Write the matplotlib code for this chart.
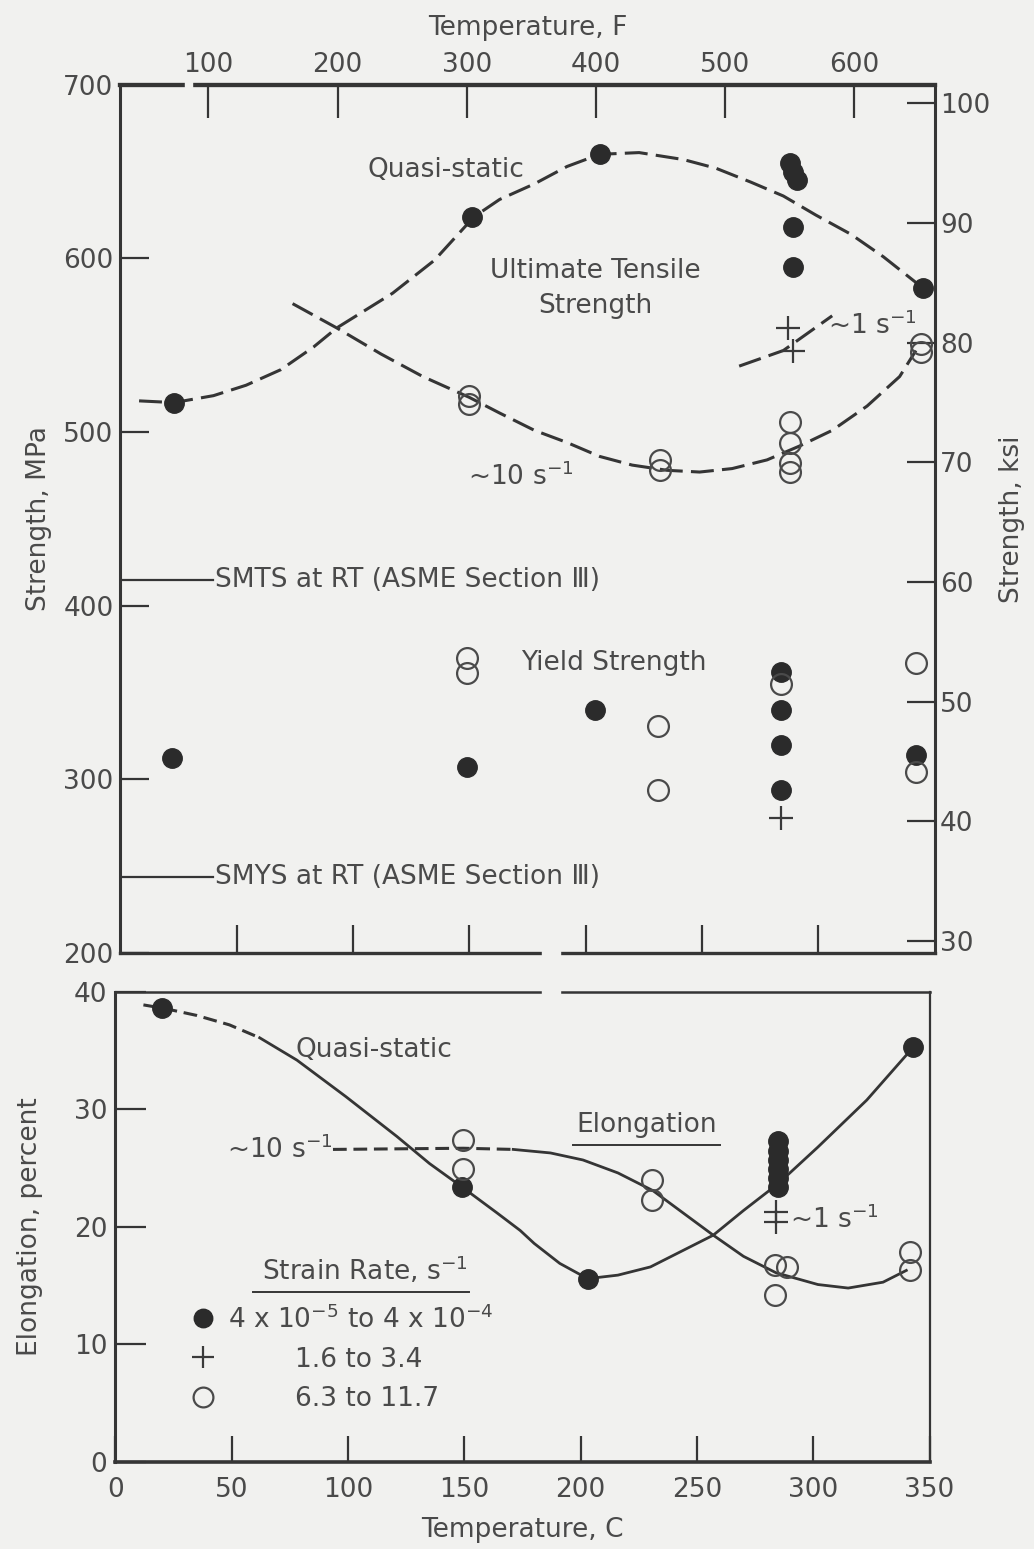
import numpy as np
import matplotlib
matplotlib.use('Agg')
import matplotlib.pyplot as plt
from matplotlib.patches import Rectangle

# ---- upper panel: strength, MPa vs temperature, C
uts_qs_t = [23, 151, 206, 288, 289, 291, 289, 289, 345]
uts_qs_s = [517, 624, 660, 655, 650, 645, 618, 595, 583]
uts_fast_t = [150, 150, 232, 232, 288, 288, 288, 288, 344, 344]
uts_fast_s = [521, 516, 484, 478, 506, 494, 482, 477, 551, 546]
uts_mid_t = [287, 289]
uts_mid_s = [560, 547]

ys_qs_t = [22, 149, 204, 284, 284, 284, 284, 342]
ys_qs_s = [312, 307, 340, 362, 340, 320, 294, 314]
ys_fast_t = [149, 149, 231, 231, 284, 342, 342]
ys_fast_s = [370, 361, 331, 294, 355, 367, 304]
ys_mid_t = [284]
ys_mid_s = [278]

# hand drawn fit curves
uts_qs_curve_t = [8, 23, 40, 54, 69, 83, 93, 117, 135, 152, 163, 178, 192, 206, 223,
                  242, 256, 271, 285, 299, 314, 328, 345]
uts_qs_curve_s = [518, 517, 521, 527, 536, 549, 560, 580, 599, 624, 634, 643, 653, 660, 661,
                  657, 652, 644, 636, 625, 614, 601, 583]
uts_fast_curve_t = [74, 93, 112, 130, 150, 163, 178, 192, 206, 220, 235, 249, 263, 278,
                    292, 306, 321, 335, 342]
uts_fast_curve_s = [574, 560, 545, 532, 520, 511, 501, 494, 486, 481, 478, 477, 479, 484,
                    492, 501, 515, 532, 547]
uts_mid_curve_t = [266, 285, 306]
uts_mid_curve_s = [538, 547, 567]

smts = 415
smys = 244

# ---- lower panel: elongation, percent
el_qs_t = [20, 149, 203, 285, 285, 285, 285, 285, 285, 343]
el_qs_e = [38.6, 23.4, 15.6, 27.3, 26.5, 25.7, 24.9, 24.2, 23.4, 35.3]
el_fast_t = [149.5, 149.5, 230.6, 230.6, 283.5, 288.5, 283.5, 341.5, 341.5]
el_fast_e = [27.4, 24.9, 24.0, 22.3, 16.8, 16.6, 14.2, 17.9, 16.3]
el_mid_t = [284, 284]
el_mid_e = [21.3, 20.4]

el_qs_dash_t = [12, 21, 35, 49, 62]
el_qs_dash_e = [38.9, 38.6, 38.0, 37.2, 36.1]
el_qs_line_t = [62, 78, 99, 121, 135, 149, 164, 174, 180, 191, 203, 216, 230, 244, 257,
                270, 285, 302, 323, 343]
el_qs_line_e = [36.1, 34.2, 31.1, 27.7, 25.4, 23.4, 21.2, 19.7, 18.6, 16.9, 15.6, 15.9, 16.6,
                18.0, 19.3, 21.4, 23.7, 26.8, 30.8, 35.3]
el_fast_dash_t = [93.5, 149.5, 171]
el_fast_dash_e = [26.6, 26.7, 26.6]
el_fast_line_t = [171, 187, 201, 216, 231, 244, 257, 270, 284, 302, 315, 330, 340]
el_fast_line_e = [26.6, 26.3, 25.7, 24.6, 23.1, 21.2, 19.3, 17.5, 16.1, 15.1, 14.8, 15.3, 16.3]

legend_labels = ['4 x 10$^{-5}$ to 4 x 10$^{-4}$', '        1.6 to 3.4', '        6.3 to 11.7']

bg = '#f1f1ef'
ink = '#353535'
txt = '#4a4a4a'
fs = 19

plt.rcParams['font.family'] = ['DejaVu Sans']
plt.rcParams['mathtext.fontset'] = 'dejavusans'

fig = plt.figure(figsize=(10.34, 15.49), dpi=100, facecolor=bg)
ax1 = fig.add_axes([0.1165, 0.3848, 0.7873, 0.5604], facecolor=bg)
ax2 = fig.add_axes([0.1117, 0.0562, 0.7873, 0.3034], facecolor=bg)

dash_long = dict(color=ink, lw=2.2, dashes=(7.5, 2.7))
dot_kw = dict(ls='none', marker='o', ms=14, mfc='#2b2b2b', mec='#2b2b2b', zorder=4)
open_kw = dict(ls='none', marker='o', ms=15, mfc='none', mec='#4a4a4a', mew=1.6, zorder=4)
plus_kw = dict(ls='none', marker='+', ms=17, mec='#3a3a3a', mew=1.6, zorder=4)

# ---------- upper panel
ax1.plot(uts_qs_curve_t, uts_qs_curve_s, **dash_long)
ax1.plot(uts_fast_curve_t, uts_fast_curve_s, **dash_long)
ax1.plot(uts_mid_curve_t, uts_mid_curve_s, **dash_long)
ax1.plot(uts_qs_t, uts_qs_s, **dot_kw)
ax1.plot(uts_fast_t, uts_fast_s, **open_kw)
ax1.plot(uts_mid_t, uts_mid_s, **plus_kw)
ax1.plot(ys_qs_t, ys_qs_s, **dot_kw)
ax1.plot(ys_fast_t, ys_fast_s, **open_kw)
ax1.plot(ys_mid_t, ys_mid_s, **plus_kw)

ax1.plot([0, 40], [smts, smts], color=ink, lw=1.6)
ax1.plot([0, 40], [smys, smys], color=ink, lw=1.6)
ax1.text(40.5, smts, 'SMTS at RT (ASME Section \u2162)', fontsize=fs, color=txt, va='center', ha='left')
ax1.text(40.5, smys, 'SMYS at RT (ASME Section \u2162)', fontsize=fs, color=txt, va='center', ha='left')

ax1.text(140, 651, 'Quasi-static', fontsize=fs, color=txt, ha='center', va='center')
ax1.text(204, 582.5, 'Ultimate Tensile\nStrength', fontsize=fs, color=txt, ha='center', va='center',
         linespacing=1.45)
ax1.text(172, 474, '~10 s$^{-1}$', fontsize=fs, color=txt, ha='center', va='center')
ax1.text(304, 561, '~1 s$^{-1}$', fontsize=fs, color=txt, ha='left', va='center')
ax1.text(212, 367, 'Yield Strength', fontsize=fs, color=txt, ha='center', va='center')

ax1.set_xlim(0, 350)
ax1.set_ylim(200, 700)
ax1.set_xticks([50, 100, 150, 200, 250, 300])
ax1.set_xticklabels([])
ax1.set_yticks([200, 300, 400, 500, 600, 700])
ax1.tick_params(axis='x', direction='in', length=20, width=1.6, color=ink)
ax1.tick_params(axis='y', direction='in', length=21, width=1.6, color=ink,
                labelsize=fs, labelcolor=txt, pad=5)
ax1.set_ylabel('Strength, MPa', fontsize=fs, color=txt, labelpad=8)

top = ax1.secondary_xaxis('top', functions=(lambda c: c * 9 / 5 + 32, lambda f: (f - 32) * 5 / 9))
top.set_xticks([100, 200, 300, 400, 500, 600])
top.tick_params(direction='in', length=24, width=1.6, color=ink, labelsize=fs, labelcolor=txt, pad=5)
top.set_xlabel('Temperature, F', fontsize=fs, color=txt, labelpad=12)

right = ax1.secondary_yaxis('right', functions=(lambda m: m / 6.895, lambda k: k * 6.895))
right.set_yticks([30, 40, 50, 60, 70, 80, 90, 100])
right.tick_params(direction='in', length=20, width=1.6, color=ink, labelsize=fs, labelcolor=txt, pad=4)
right.set_ylabel('Strength, ksi', fontsize=fs, color=txt, labelpad=6)

ax1.spines['right'].set_visible(False)
ax1.spines['top'].set_linewidth(3.0)
ax1.spines['left'].set_linewidth(2.2)
ax1.spines['bottom'].set_linewidth(2.4)
top.spines['top'].set_linewidth(3.0)
right.spines['right'].set_linewidth(2.2)
for sp in list(ax1.spines.values()) + list(top.spines.values()) + list(right.spines.values()):
    sp.set_color(ink)

# ---------- lower panel
ax2.plot(el_qs_dash_t, el_qs_dash_e, color=ink, lw=2.2, dashes=(4.5, 2.2))
ax2.plot(el_qs_line_t, el_qs_line_e, color=ink, lw=2.0)
ax2.plot(el_fast_dash_t, el_fast_dash_e, color=ink, lw=2.2, dashes=(4.5, 2.2))
ax2.plot(el_fast_line_t, el_fast_line_e, color=ink, lw=2.0)
h_qs, = ax2.plot(el_qs_t, el_qs_e, **dot_kw)
h_mid, = ax2.plot(el_mid_t, el_mid_e, **plus_kw)
h_fast, = ax2.plot(el_fast_t, el_fast_e, **open_kw)

ax2.text(111, 35.1, 'Quasi-static', fontsize=fs, color=txt, ha='center', va='center')
ax2.text(93.5, 26.6, '~10 s$^{-1}$', fontsize=fs, color=txt, ha='right', va='center')
ax2.text(228.5, 28.7, 'Elongation', fontsize=fs, color=txt, ha='center', va='center')
ax2.plot([196.7, 259.9], [27.0, 27.0], color=ink, lw=1.4)
ax2.text(290, 20.6, '~1 s$^{-1}$', fontsize=fs, color=txt, ha='left', va='center')

ax2.text(107.3, 16.3, 'Strain Rate, s$^{-1}$', fontsize=fs, color=txt, ha='center', va='center')
ax2.plot([59, 152], [14.5, 14.5], color=ink, lw=1.4)
leg = ax2.legend([h_qs, h_mid, h_fast], legend_labels,
                 loc='upper left', bbox_to_anchor=(191 / 1034, 1 - 1305 / 1549),
                 bbox_transform=fig.transFigure, frameon=False, fontsize=fs,
                 handlelength=0.9, handletextpad=0.5, labelspacing=0.5, borderpad=0,
                 borderaxespad=0, markerscale=0.95)
for t in leg.get_texts():
    t.set_color(txt)

ax2.set_xlim(0, 350)
ax2.set_ylim(0, 40)
ax2.set_xticks([0, 50, 100, 150, 200, 250, 300, 350])
ax2.set_yticks([0, 10, 20, 30, 40])
ax2.tick_params(axis='x', direction='in', length=19, width=1.6, color=ink,
                labelsize=fs, labelcolor=txt, pad=11)
ax2.tick_params(axis='y', direction='in', length=22, width=1.6, color=ink,
                labelsize=fs, labelcolor=txt, pad=6)
ax2.set_xlabel('Temperature, C', fontsize=fs, color=txt, labelpad=10)
ax2.set_ylabel('Elongation, percent', fontsize=fs, color=txt, labelpad=22)
ax2.spines['bottom'].set_linewidth(2.6)
ax2.spines['left'].set_linewidth(2.2)
ax2.spines['top'].set_linewidth(1.8)
ax2.spines['right'].set_linewidth(1.6)
for sp in ax2.spines.values():
    sp.set_color(ink)

# breaks in the scanned frame lines
for x0, y0, w, h in [(542, 945, 18, 58), (185, 78, 7, 14)]:
    fig.patches.append(Rectangle((x0 / 1034, 1 - (y0 + h) / 1549), w / 1034, h / 1549,
                                 transform=fig.transFigure, color=bg, zorder=10))

fig.savefig('out.png', dpi=100, facecolor=bg)
